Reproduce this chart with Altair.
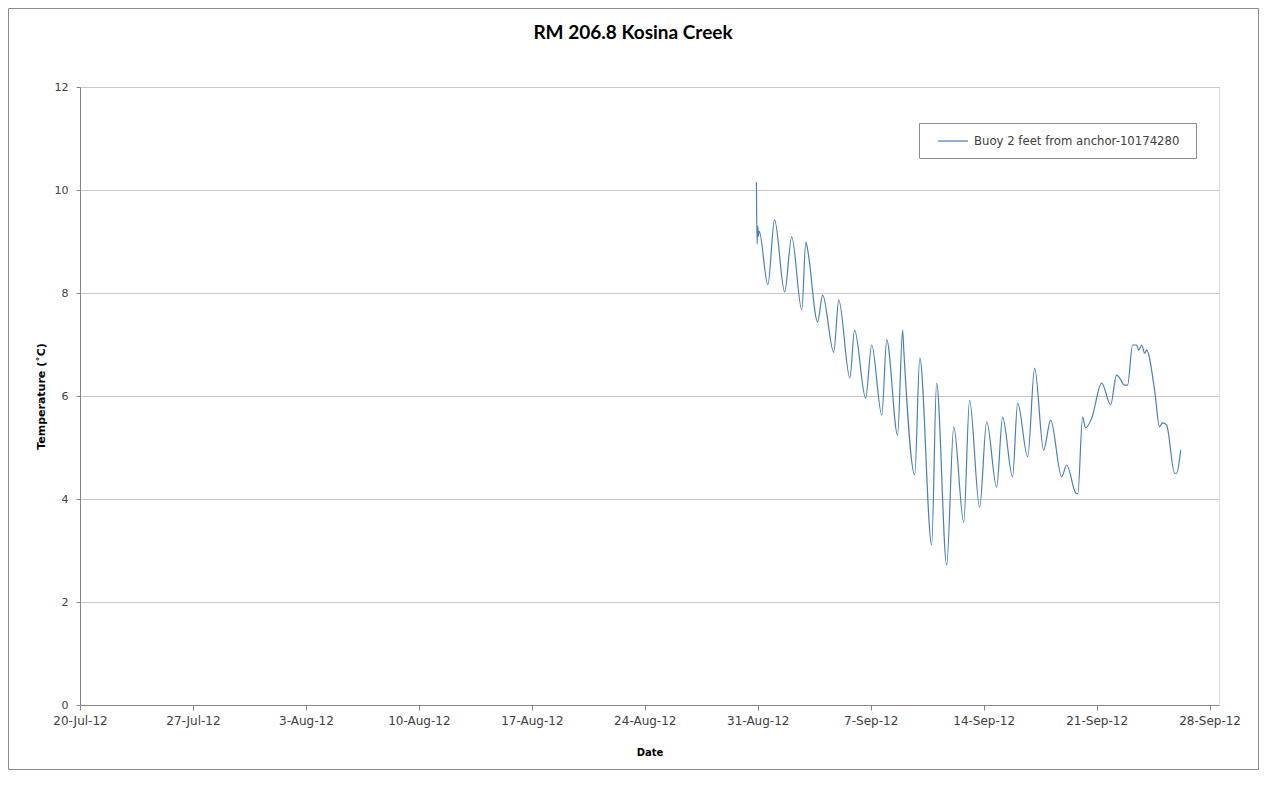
import altair as alt
import pandas as pd

# ---- data ----
chart_title = "RM 206.8 Kosina Creek"
series_name = "Buoy 2 feet from anchor-10174280"

times = [
    "2012-08-30T22:00", "2012-08-30T23:00", "2012-08-31T00:00", "2012-08-31T01:00",
    "2012-08-31T02:00", "2012-08-31T15:00", "2012-09-01T01:00", "2012-09-01T16:00",
    "2012-09-02T02:30", "2012-09-02T17:30", "2012-09-02T23:30", "2012-09-03T02:20",
    "2012-09-03T17:00", "2012-09-04T00:30", "2012-09-04T17:00", "2012-09-05T00:30",
    "2012-09-05T17:00", "2012-09-06T00:00", "2012-09-06T16:30", "2012-09-07T01:30",
    "2012-09-07T16:30", "2012-09-07T23:50", "2012-09-08T16:00", "2012-09-08T23:30",
    "2012-09-09T01:00", "2012-09-09T17:30", "2012-09-10T01:00", "2012-09-10T18:40",
    "2012-09-11T02:00", "2012-09-11T17:00", "2012-09-12T03:30", "2012-09-12T18:20",
    "2012-09-13T03:00", "2012-09-13T18:00", "2012-09-14T04:30", "2012-09-14T19:20",
    "2012-09-15T04:10", "2012-09-15T19:00", "2012-09-16T02:30", "2012-09-16T17:30",
    "2012-09-17T03:50", "2012-09-17T17:10", "2012-09-18T03:40", "2012-09-18T20:00",
    "2012-09-19T03:30", "2012-09-19T16:50", "2012-09-19T20:00", "2012-09-20T03:10",
    "2012-09-20T07:40", "2012-09-20T16:40", "2012-09-21T07:30", "2012-09-21T20:50",
    "2012-09-22T05:40", "2012-09-22T10:10", "2012-09-22T17:40", "2012-09-22T22:00",
    "2012-09-23T05:30", "2012-09-23T11:30", "2012-09-23T14:30", "2012-09-23T19:00",
    "2012-09-23T23:30", "2012-09-24T02:20", "2012-09-24T14:10", "2012-09-24T21:40",
    "2012-09-25T02:00", "2012-09-25T08:00", "2012-09-25T20:00", "2012-09-25T23:00",
    "2012-09-26T05:00",
]

temps = [
    10.15, 8.95, 9.30, 9.10,
    9.20, 8.16, 9.42, 8.02,
    9.09, 7.67, 8.99, 8.83,
    7.44, 7.96, 6.85, 7.86,
    6.35, 7.28, 5.96, 6.99,
    5.63, 7.09, 5.24, 7.28,
    6.93, 4.47, 6.74, 3.11,
    6.25, 2.72, 5.40, 3.55,
    5.92, 3.84, 5.50, 4.23,
    5.59, 4.43, 5.86, 4.82,
    6.54, 4.95, 5.53, 4.43,
    4.66, 4.12, 4.10, 5.59,
    5.38, 5.57, 6.25, 5.83,
    6.41, 6.35, 6.21, 6.21,
    6.99, 6.99, 6.89, 6.99,
    6.83, 6.89, 6.12, 5.40,
    5.48, 5.44, 4.50, 4.50,
    4.95,
]

x_tick_dates = [
    (2012, 7, 20), (2012, 7, 27), (2012, 8, 3), (2012, 8, 10), (2012, 8, 17),
    (2012, 8, 24), (2012, 8, 31), (2012, 9, 7), (2012, 9, 14), (2012, 9, 21),
    (2012, 9, 28),
]
y_ticks = [0, 2, 4, 6, 8, 10, 12]

df = pd.DataFrame({"Date": times, "Temp": temps, "Series": series_name})

FONT = "DejaVu Sans"
TFONT = "Lato"
W, H = 1139, 618
PAD_L, PAD_T, PAD_R, PAD_B = 72, 79, 40, 65

tick_vals = [alt.DateTime(year=y, month=m, date=d) for (y, m, d) in x_tick_dates]

one_row = alt.Data(values=[{}])

frame = alt.Chart(one_row).mark_rect(
    fillOpacity=0, stroke="#8c8c8c", strokeWidth=1
).encode(
    x=alt.value(-PAD_L + 0.5), x2=alt.value(W + PAD_R - 0.5),
    y=alt.value(-PAD_T + 0.5), y2=alt.value(H + PAD_B - 0.5),
)

legend_box = alt.Chart(one_row).mark_rect(
    fill="white", stroke="#8c8c8c", strokeWidth=1
).encode(
    x=alt.value(839.5), x2=alt.value(1116.5),
    y=alt.value(36.5), y2=alt.value(71.5),
)

title_text = alt.Chart(one_row).mark_text(
    text=chart_title, font=TFONT, fontSize=19, fontWeight="bold",
    color="#000000", align="center", baseline="middle",
).encode(x=alt.value(553), y=alt.value(-54))

line = alt.Chart(df).mark_line(strokeWidth=1.2, interpolate="monotone").encode(
    x=alt.X(
        "Date:T",
        scale=alt.Scale(domain=[alt.DateTime(year=2012, month=7, date=20),
                                alt.DateTime(year=2012, month=9, date=28, hours=14)]),
        axis=alt.Axis(
            title="Date", values=tick_vals, format="%-d-%b-%y", grid=False,
            labelFont=FONT, labelFontSize=12, labelColor="#404040", labelPadding=5,
            titleFont=FONT, titleFontSize=10, titleFontWeight="bold", titleColor="#000000",
            titlePadding=21, domainColor="#868686", tickColor="#868686", tickSize=5,
            labelFlush=False,
        ),
    ),
    y=alt.Y(
        "Temp:Q",
        scale=alt.Scale(domain=[0, 12], nice=False),
        axis=alt.Axis(
            title="Temperature (˚C)", values=y_ticks, grid=True, gridColor="#c8c8c8",
            labelFont=FONT, labelFontSize=11, labelColor="#404040", labelPadding=8,
            titleFont=FONT, titleFontSize=11, titleFontWeight="bold", titleColor="#000000",
            titlePadding=8, domainColor="#868686", tickColor="#868686", tickSize=4,
        ),
    ),
    color=alt.Color(
        "Series:N",
        scale=alt.Scale(range=["#4a7ebb"]),
        legend=alt.Legend(
            title=None, orient="none", legendX=857, legendY=38,
            padding=0, symbolType="stroke", symbolSize=900, symbolStrokeWidth=1.2,
            labelFont=FONT, labelFontSize=11.7, labelColor="#404040",
            labelLimit=400, labelOffset=5,
        ),
    ),
)

chart = alt.layer(frame, legend_box, title_text, line).properties(
    width=W, height=H,
    autosize=alt.AutoSizeParams(type="none"),
    padding={"left": PAD_L, "top": PAD_T, "right": PAD_R, "bottom": PAD_B},
).configure_view(stroke=None).configure(background="white")

chart.save("out.html", embed_options={"renderer": "svg", "actions": False})
